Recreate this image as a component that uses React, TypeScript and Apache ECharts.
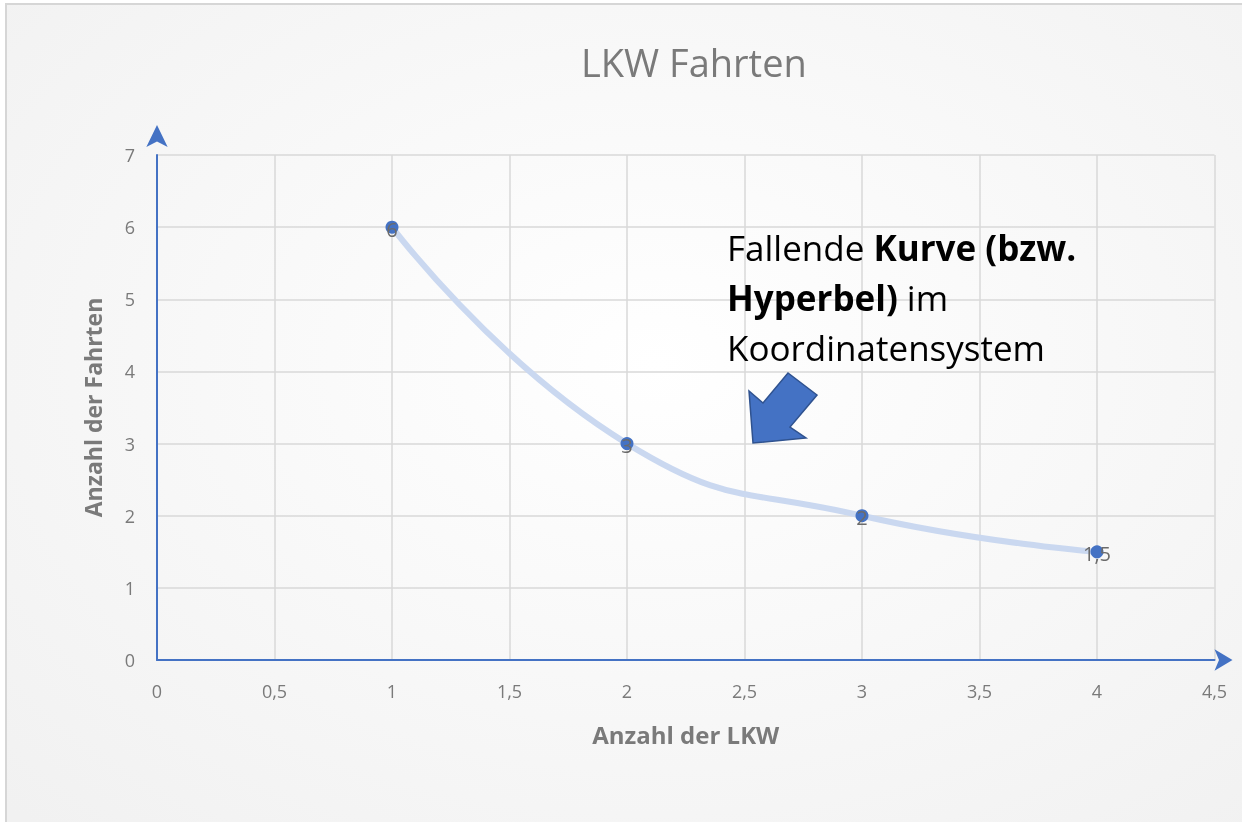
import React, { useEffect, useRef } from "react";
import * as echarts from "echarts";

const xValues = [1, 2, 3, 4];
const yValues = [6, 3, 2, 1.5];
const pointLabels = ["6", "3", "2", "1,5"];
const titleText = "LKW Fahrten";
const xAxisName = "Anzahl der LKW";
const yAxisName = "Anzahl der Fahrten";

const fmt = (v: number) => String(v).replace(".", ",");

export default function App() {
  const ref = useRef<HTMLDivElement>(null);
  useEffect(() => {
    if (!ref.current) return;
    const chart = echarts.init(ref.current, undefined, { renderer: "svg" });
    const data = xValues.map((x, i) => [x, yValues[i]]);
    chart.setOption({
      animation: false,
      textStyle: { fontFamily: "Open Sans" },
      graphic: [
        {
          type: "rect",
          z: -10,
          silent: true,
          shape: { x: 6, y: 4, width: 1300, height: 900 },
          style: {
            fill: new echarts.graphic.RadialGradient(0.5, 0.4, 0.7, [
              { offset: 0, color: "#ffffff" },
              { offset: 1, color: "#f1f1f1" },
            ]),
            stroke: "#d6d6d6",
            lineWidth: 2,
          },
        },
        {
          type: "polygon",
          z: 10,
          shape: {
            points: [
              [753, 443],
              [749, 391],
              [763, 403],
              [788, 373],
              [817, 395],
              [790, 427],
              [806, 438],
            ],
          },
          style: { fill: "#4472c4", stroke: "#2f528f", lineWidth: 1.5 },
        },
        {
          type: "text",
          z: 10,
          left: 727,
          top: 222,
          style: {
            text: "Fallende {b|Kurve (bzw.}\n{b|Hyperbel)} im\nKoordinatensystem",
            fontFamily: "Open Sans",
            fontSize: 35,
            lineHeight: 50,
            fill: "#000000",
            rich: {
              b: { fontWeight: "bold", fontSize: 35, fontFamily: "Open Sans", lineHeight: 50, fill: "#000000" },
            },
          },
        },
      ],
      title: {
        text: titleText,
        left: 576,
        top: 38,
        textStyle: { fontSize: 38, fontWeight: "normal", color: "#7a7a7a", fontFamily: "Open Sans" },
      },
      grid: { left: 157, right: 27.5, top: 155, bottom: 162, containLabel: false },
      xAxis: {
        type: "value",
        min: 0,
        max: 4.5,
        interval: 0.5,
        name: xAxisName,
        nameLocation: "middle",
        nameGap: 62,
        nameTextStyle: { fontSize: 24, fontWeight: "bold", color: "#7a7a7a" },
        axisLine: {
          show: true,
          symbol: ["none", "arrow"],
          symbolSize: [16, 18],
          symbolOffset: [0, 18],
          lineStyle: { color: "#4472c4", width: 2 },
        },
        axisTick: { show: false },
        axisLabel: { fontSize: 18, color: "#7a7a7a", margin: 22, formatter: (v: number) => fmt(v) },
        splitLine: { show: true, lineStyle: { color: "#d9d9d9", width: 1.5 } },
      },
      yAxis: {
        type: "value",
        min: 0,
        max: 7,
        interval: 1,
        name: yAxisName,
        nameLocation: "middle",
        nameGap: 53,
        nameTextStyle: { fontSize: 23, fontWeight: "bold", color: "#7a7a7a" },
        axisLine: {
          show: true,
          symbol: ["none", "arrow"],
          symbolSize: [16, 22],
          symbolOffset: [0, 30],
          lineStyle: { color: "#4472c4", width: 2 },
        },
        axisTick: { show: false },
        axisLabel: { fontSize: 18, color: "#7a7a7a", margin: 22, formatter: (v: number) => fmt(v) },
        splitLine: { show: true, lineStyle: { color: "#d9d9d9", width: 1.5 } },
      },
      series: [
        {
          type: "line",
          data,
          smooth: 0.5,
          symbol: "circle",
          symbolSize: 13,
          itemStyle: { color: "#4472c4" },
          lineStyle: { color: "#cad8f0", width: 6 },
          label: {
            show: true,
            position: "inside",
            offset: [0, 2],
            fontSize: 20,
            color: "#6b6b6b",
            formatter: (p: any) => pointLabels[p.dataIndex],
          },
        },
      ],
    });
    return () => chart.dispose();
  }, []);
  return <div ref={ref} style={{ position: "fixed", left: 0, top: 0, width: 1242, height: 822 }} />;
}
